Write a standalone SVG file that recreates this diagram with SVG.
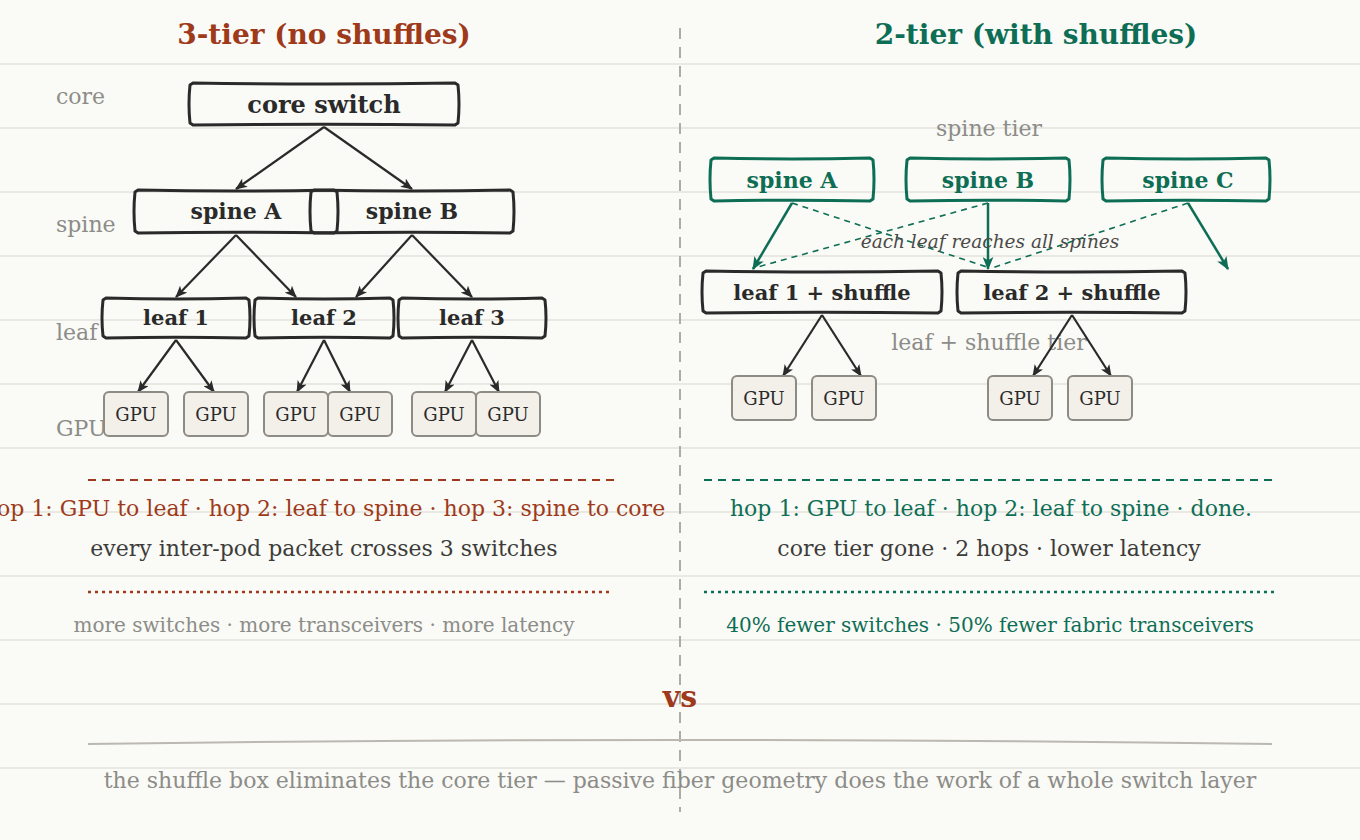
<svg xmlns="http://www.w3.org/2000/svg" width="1360" height="840" viewBox="0 0 1360 840">
<defs>
<style>
.bg{fill:#fafaf6}
.grid{stroke:#e9e8e2;stroke-width:2}
.serif{font-family:"DejaVu Serif","Liberation Serif",serif}
.title{font-size:28px;font-weight:bold;text-anchor:middle}
.tier{font-size:22px;fill:#8c8c88}
.box{fill:none;stroke:#2a2a2a;stroke-width:3;stroke-linejoin:round}
.gbox{fill:none;stroke:#0e6e55;stroke-width:3;stroke-linejoin:round}
.lbl{font-size:22px;font-weight:bold;fill:#2a2a2a;text-anchor:middle}
.lbl24{font-size:24px}
.lbl21{font-size:21px}
.glbl{font-size:22px;font-weight:bold;fill:#0e6e55;text-anchor:middle}
.gpu{fill:#f3efe9;stroke:#8c8b84;stroke-width:2}
.gput{font-size:18px;fill:#2a2a2a;text-anchor:middle}
.edge{stroke:#2a2a2a;stroke-width:2.2;fill:none}
.gedge{stroke:#0e6e55;stroke-width:2.5;fill:none}
.gdash{stroke:#0e6e55;stroke-width:1.6;fill:none;stroke-dasharray:6 5}
.mid{font-size:22px;text-anchor:middle}
.small{font-size:20px;text-anchor:middle}
</style>
<marker id="ah" viewBox="0 0 12 10" refX="11" refY="5" markerWidth="12" markerHeight="10" markerUnits="userSpaceOnUse" orient="auto">
<path d="M0,0 L12,5 L0,10 L3,5 Z" fill="#2a2a2a"/>
</marker>
<marker id="gah" viewBox="0 0 12 10" refX="11" refY="5" markerWidth="13" markerHeight="11" markerUnits="userSpaceOnUse" orient="auto">
<path d="M0,0 L12,5 L0,10 L3,5 Z" fill="#0e6e55"/>
</marker>
</defs>
<rect class="bg" x="0" y="0" width="1360" height="840"/>
<g id="grid">
<line class="grid" x1="0" y1="64" x2="1360" y2="64"/>
<line class="grid" x1="0" y1="128" x2="1360" y2="128"/>
<line class="grid" x1="0" y1="192" x2="1360" y2="192"/>
<line class="grid" x1="0" y1="256" x2="1360" y2="256"/>
<line class="grid" x1="0" y1="320" x2="1360" y2="320"/>
<line class="grid" x1="0" y1="384" x2="1360" y2="384"/>
<line class="grid" x1="0" y1="448" x2="1360" y2="448"/>
<line class="grid" x1="0" y1="512" x2="1360" y2="512"/>
<line class="grid" x1="0" y1="576" x2="1360" y2="576"/>
<line class="grid" x1="0" y1="640" x2="1360" y2="640"/>
<line class="grid" x1="0" y1="704" x2="1360" y2="704"/>
<line class="grid" x1="0" y1="768" x2="1360" y2="768"/>
</g>
<line x1="680" y1="28" x2="680" y2="812" stroke="#aeaca6" stroke-width="2" stroke-dasharray="11 8"/>

<g class="serif">
<text class="title" x="324" y="44" fill="#9e3a1b">3-tier (no shuffles)</text>
<text class="title" x="1036" y="44" fill="#0e6e55">2-tier (with shuffles)</text>

<text class="tier" x="56" y="104">core</text>
<text class="tier" x="56" y="232">spine</text>
<text class="tier" x="56" y="340">leaf</text>
<text class="tier" x="56" y="436">GPU</text>
<text class="tier" x="989" y="136" text-anchor="middle">spine tier</text>
<text class="tier" x="989" y="350" text-anchor="middle">leaf + shuffle tier</text>
</g>

<g id="connectors">
<line class="edge" x1="324" y1="127" x2="236" y2="189" marker-end="url(#ah)"/>
<line class="edge" x1="324" y1="127" x2="412" y2="189" marker-end="url(#ah)"/>
<line class="edge" x1="236" y1="235" x2="176" y2="297" marker-end="url(#ah)"/>
<line class="edge" x1="236" y1="235" x2="296" y2="297" marker-end="url(#ah)"/>
<line class="edge" x1="412" y1="235" x2="356" y2="297" marker-end="url(#ah)"/>
<line class="edge" x1="412" y1="235" x2="472" y2="297" marker-end="url(#ah)"/>
<line class="edge" x1="176" y1="340" x2="138" y2="392" marker-end="url(#ah)"/>
<line class="edge" x1="176" y1="340" x2="214" y2="392" marker-end="url(#ah)"/>
<line class="edge" x1="324" y1="340" x2="297" y2="392" marker-end="url(#ah)"/>
<line class="edge" x1="324" y1="340" x2="350" y2="392" marker-end="url(#ah)"/>
<line class="edge" x1="472" y1="340" x2="445" y2="392" marker-end="url(#ah)"/>
<line class="edge" x1="472" y1="340" x2="499" y2="392" marker-end="url(#ah)"/>

<line class="gdash" x1="792" y1="203" x2="990" y2="268"/>
<line class="gdash" x1="988" y1="203" x2="754" y2="268"/>
<line class="gdash" x1="1188" y1="203" x2="992" y2="268"/>
<line class="gedge" x1="792" y1="203" x2="753" y2="269" marker-end="url(#gah)"/>
<line class="gedge" x1="988" y1="203" x2="988" y2="269" marker-end="url(#gah)"/>
<line class="gedge" x1="1188" y1="203" x2="1228" y2="269" marker-end="url(#gah)"/>

<line class="edge" x1="822" y1="315" x2="783" y2="376" marker-end="url(#ah)"/>
<line class="edge" x1="822" y1="315" x2="861" y2="376" marker-end="url(#ah)"/>
<line class="edge" x1="1072" y1="315" x2="1033" y2="376" marker-end="url(#ah)"/>
<line class="edge" x1="1072" y1="315" x2="1111" y2="376" marker-end="url(#ah)"/>
</g>

<text class="serif" x="990" y="248" font-size="18.5" font-style="italic" fill="#4a4a48" text-anchor="middle">each leaf reaches all spines</text>

<g id="core-switch" class="serif">
<path class="box" d="M193,83 Q324,85 455,83 L458,85 Q460,104 458,123 L455,125 Q324,123.5 193,125 L190,123 Q188,104 190,85 Z"/>
<text class="lbl lbl24" x="324" y="113">core switch</text>
</g>
<g id="spine-a-left" class="serif">
<path class="box" d="M138,190 Q236,192 334,190 L337,192 Q339,211.5 337,231 L334,233 Q236,231.5 138,233 L135,231 Q133,211.5 135,192 Z"/>
<text class="lbl" x="236" y="219">spine A</text>
</g>
<g id="spine-b-left" class="serif">
<path class="box" d="M314,190 Q412,192 510,190 L513,192 Q515,211.5 513,231 L510,233 Q412,231.5 314,233 L311,231 Q309,211.5 311,192 Z"/>
<text class="lbl" x="412" y="219">spine B</text>
</g>
<g id="leaf-1" class="serif">
<path class="box" d="M106,298 Q176,300 246,298 L249,300 Q251,318 249,336 L246,338 Q176,336.5 106,338 L103,336 Q101,318 103,300 Z"/>
<text class="lbl lbl21" x="176" y="325">leaf 1</text>
</g>
<g id="leaf-2" class="serif">
<path class="box" d="M258,298 Q324,300 390,298 L393,300 Q395,318 393,336 L390,338 Q324,336.5 258,338 L255,336 Q253,318 255,300 Z"/>
<text class="lbl lbl21" x="324" y="325">leaf 2</text>
</g>
<g id="leaf-3" class="serif">
<path class="box" d="M402,298 Q472,300 542,298 L545,300 Q547,318 545,336 L542,338 Q472,336.5 402,338 L399,336 Q397,318 399,300 Z"/>
<text class="lbl lbl21" x="472" y="325">leaf 3</text>
</g>

<g id="gpu-l1" class="serif"><rect class="gpu" x="104" y="392" width="64" height="44" rx="5"/><text class="gput" x="136" y="421">GPU</text></g>
<g id="gpu-l2" class="serif"><rect class="gpu" x="184" y="392" width="64" height="44" rx="5"/><text class="gput" x="216" y="421">GPU</text></g>
<g id="gpu-l3" class="serif"><rect class="gpu" x="264" y="392" width="64" height="44" rx="5"/><text class="gput" x="296" y="421">GPU</text></g>
<g id="gpu-l4" class="serif"><rect class="gpu" x="328" y="392" width="64" height="44" rx="5"/><text class="gput" x="360" y="421">GPU</text></g>
<g id="gpu-l5" class="serif"><rect class="gpu" x="412" y="392" width="64" height="44" rx="5"/><text class="gput" x="444" y="421">GPU</text></g>
<g id="gpu-l6" class="serif"><rect class="gpu" x="476" y="392" width="64" height="44" rx="5"/><text class="gput" x="508" y="421">GPU</text></g>

<g id="spine-a-right" class="serif">
<path class="gbox" d="M714,158 Q792,160 870,158 L873,160 Q875,179.5 873,199 L870,201 Q792,199.5 714,201 L711,199 Q709,179.5 711,160 Z"/>
<text class="glbl" x="792" y="188">spine A</text>
</g>
<g id="spine-b-right" class="serif">
<path class="gbox" d="M910,158 Q988,160 1066,158 L1069,160 Q1071,179.5 1069,199 L1066,201 Q988,199.5 910,201 L907,199 Q905,179.5 907,160 Z"/>
<text class="glbl" x="988" y="188">spine B</text>
</g>
<g id="spine-c-right" class="serif">
<path class="gbox" d="M1106,158 Q1186,160 1266,158 L1269,160 Q1271,179.5 1269,199 L1266,201 Q1186,199.5 1106,201 L1103,199 Q1101,179.5 1103,160 Z"/>
<text class="glbl" x="1188" y="188">spine C</text>
</g>
<g id="leaf-1-shuffle" class="serif">
<path class="box" d="M706,271 Q822,273 938,271 L941,273 Q943,292 941,311 L938,313 Q822,311.5 706,313 L703,311 Q701,292 703,273 Z"/>
<text class="lbl lbl21" x="822" y="300">leaf 1 + shuffle</text>
</g>
<g id="leaf-2-shuffle" class="serif">
<path class="box" d="M961,271 Q1071.5,273 1182,271 L1185,273 Q1187,292 1185,311 L1182,313 Q1071.5,311.5 961,313 L958,311 Q956,292 958,273 Z"/>
<text class="lbl lbl21" x="1072" y="300">leaf 2 + shuffle</text>
</g>

<g id="gpu-r1" class="serif"><rect class="gpu" x="732" y="376" width="64" height="44" rx="5"/><text class="gput" x="764" y="405">GPU</text></g>
<g id="gpu-r2" class="serif"><rect class="gpu" x="812" y="376" width="64" height="44" rx="5"/><text class="gput" x="844" y="405">GPU</text></g>
<g id="gpu-r3" class="serif"><rect class="gpu" x="988" y="376" width="64" height="44" rx="5"/><text class="gput" x="1020" y="405">GPU</text></g>
<g id="gpu-r4" class="serif"><rect class="gpu" x="1068" y="376" width="64" height="44" rx="5"/><text class="gput" x="1100" y="405">GPU</text></g>

<g id="notes" class="serif">
<line x1="88" y1="480" x2="614" y2="480" stroke="#9e3a1b" stroke-width="2" stroke-dasharray="8 6"/>
<text class="mid" x="324" y="516" fill="#9e3a1b">hop 1: GPU to leaf · hop 2: leaf to spine · hop 3: spine to core</text>
<text class="mid" x="324" y="556" fill="#3c3c3a">every inter-pod packet crosses 3 switches</text>
<line x1="88" y1="592" x2="612" y2="592" stroke="#9e3a1b" stroke-width="2.5" stroke-dasharray="3 4"/>
<text class="small" x="324" y="632" fill="#8c8c88">more switches · more transceivers · more latency</text>

<line x1="704" y1="480" x2="1272" y2="480" stroke="#0e6e55" stroke-width="2" stroke-dasharray="8 6"/>
<text class="mid" x="991" y="516" fill="#0e6e55">hop 1: GPU to leaf · hop 2: leaf to spine · done.</text>
<text class="mid" x="989" y="556" fill="#3c3c3a">core tier gone · 2 hops · lower latency</text>
<line x1="704" y1="592" x2="1276" y2="592" stroke="#0e6e55" stroke-width="2.5" stroke-dasharray="3 4"/>
<text class="small" x="990" y="632" fill="#0e6e55">40% fewer switches · 50% fewer fabric transceivers</text>

<text x="680" y="707" font-size="30" font-weight="bold" fill="#9e3a1b" text-anchor="middle">vs</text>
<path d="M88,744 Q680,736 1272,744" fill="none" stroke="#bab8b0" stroke-width="2"/>
<text class="mid" x="680" y="788" fill="#8c8c88">the shuffle box eliminates the core tier — passive fiber geometry does the work of a whole switch layer</text>
</g>
</svg>
